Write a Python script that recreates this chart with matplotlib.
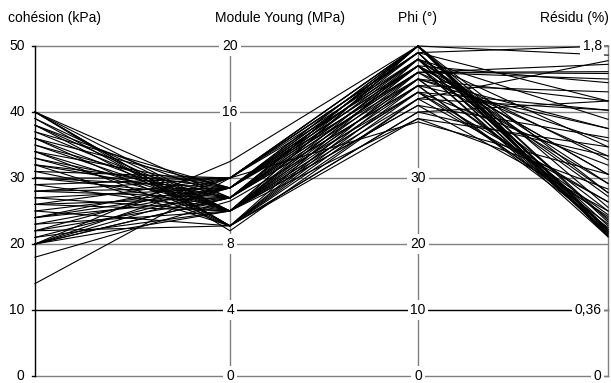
import matplotlib
matplotlib.use("Agg")
from matplotlib import pyplot as plt

plt.rcParams['font.family'] = ['Liberation Sans', 'DejaVu Sans']

# données : une ligne par échantillon
cohesion = [40, 40, 40, 40, 39, 39, 38, 38, 37, 37, 36, 36, 35, 35, 34, 34, 33, 33, 32, 32,
            31, 31, 30, 30, 29, 29, 28, 28, 27, 27, 26, 26, 25, 25, 24, 24, 23, 23, 22, 22,
            21, 21, 20, 20, 20, 20, 20, 18, 14, 40, 38, 36, 34, 32, 30, 28, 26, 24, 22, 20]
young = [9.1, 10, 9.1, 10.8, 9.1, 10, 10.8, 9.1, 10, 11.4, 10, 9.1, 10.8, 10, 11.4, 9.1, 10.8, 10, 11.4, 10.8,
         10, 12, 10.8, 11.4, 12, 10, 10.8, 12, 11.4, 10, 12, 10.8, 11.4, 9.1, 12, 10.8, 11.4, 10, 12, 10.8,
         11.4, 10, 12, 10.8, 11.4, 10, 13, 10.6, 12, 8.8, 10, 11.4, 10, 9.1, 12, 11.4, 10, 11.4, 9.1, 10.8]
phi = [48, 50, 46, 50, 45, 47, 49, 44, 50, 48, 46, 43, 50, 47, 49, 42, 48, 45, 50, 47,
       44, 50, 46, 49, 48, 43, 50, 47, 45, 41, 50, 46, 48, 40, 49, 44, 47, 42, 50, 45,
       46, 41, 49, 44, 48, 39, 50, 43, 38.5, 42, 48, 50, 45, 40, 49, 47, 43, 46, 39, 47]
residu = [0.78, 0.80, 1.2, 0.76, 1.5, 0.9, 0.77, 1.35, 0.85, 1.0, 1.65, 0.95, 0.79, 1.1, 0.82, 1.45, 1.25, 0.88, 1.75, 0.76,
          1.55, 0.92, 1.05, 0.78, 1.4, 1.15, 0.8, 1.6, 0.86, 1.3, 1.0, 1.7, 0.77, 1.2, 1.5, 0.83, 1.1, 0.95, 0.79, 1.35,
          1.62, 0.9, 1.8, 0.81, 1.05, 1.25, 0.76, 1.45, 1.1, 1.72, 0.98, 0.84, 1.28, 1.5, 0.79, 1.18, 0.87, 1.66, 1.02, 0.78]

titres = ["cohésion (kPa)", "Module Young (MPa)", "Phi (°)", "Résidu (%)"]
ticks_young = [0, 4, 8, 16, 20]
ticks_phi = [0, 10, 20, 30]
ticks_residu = ["0", "0,36", "1,8"]

# positions des axes (pixels 35, 230, 418, 608)
xpos = [0, 195 / 573, 383 / 573, 1.0]

fig = plt.figure(figsize=(6.11, 3.83), dpi=100)
ax = fig.add_axes([35 / 611, 7 / 383, 573 / 611, 330 / 383])
ax.set_xlim(0, 1)
ax.set_ylim(0, 50)
ax.axis('off')

# grille horizontale
for lev in range(0, 51, 10):
    col = 'black' if lev == 10 else '#808080'
    ax.plot([0, 1], [lev, lev], color=col, lw=1.0, zorder=1, clip_on=False)

# axes verticaux
ax.plot([0, 0], [0, 50], color='black', lw=1.0, zorder=3, clip_on=False)
for xp in xpos[1:]:
    ax.plot([xp, xp], [0, 50], color='#808080', lw=1.0, zorder=1, clip_on=False)

# polylignes, tout ramené à l'échelle 0-50
for c, e, p, r in zip(cohesion, young, phi, residu):
    ys = [c, e * 2.5, p, r / 0.036]
    ax.plot(xpos, ys, color='black', lw=0.8, zorder=2, clip_on=False)

bb = dict(facecolor='white', edgecolor='none', pad=2.0)
fs = 10

# axe cohésion
for lev in range(0, 51, 10):
    ax.plot([-0.006, 0], [lev, lev], color='black', lw=1.0, clip_on=False)
    ax.text(-0.018, lev, str(lev), ha='right', va='center', fontsize=fs)

# axe module Young
for v in ticks_young:
    ax.text(xpos[1], v * 2.5, str(v), ha='center', va='center', fontsize=fs, bbox=bb, zorder=4)

# axe Phi
for v in ticks_phi:
    ax.text(xpos[2], v, str(v), ha='center', va='center', fontsize=fs, bbox=bb, zorder=4)

# axe résidu
for lab, lev in zip(ticks_residu, [0, 10, 50]):
    ax.plot([0.991, 1.0], [lev, lev], color='#808080', lw=1.0, zorder=4, clip_on=False)
    ax.text(0.989, lev, lab, ha='right', va='center', fontsize=fs, bbox=bb, zorder=4)

# titres des colonnes
for t, xl in zip(titres, [8, 215, 398, 540]):
    fig.text(xl / 611, 1 - 18 / 383, t, ha='left', va='center', fontsize=fs)

fig.savefig("out.png", dpi=100)
